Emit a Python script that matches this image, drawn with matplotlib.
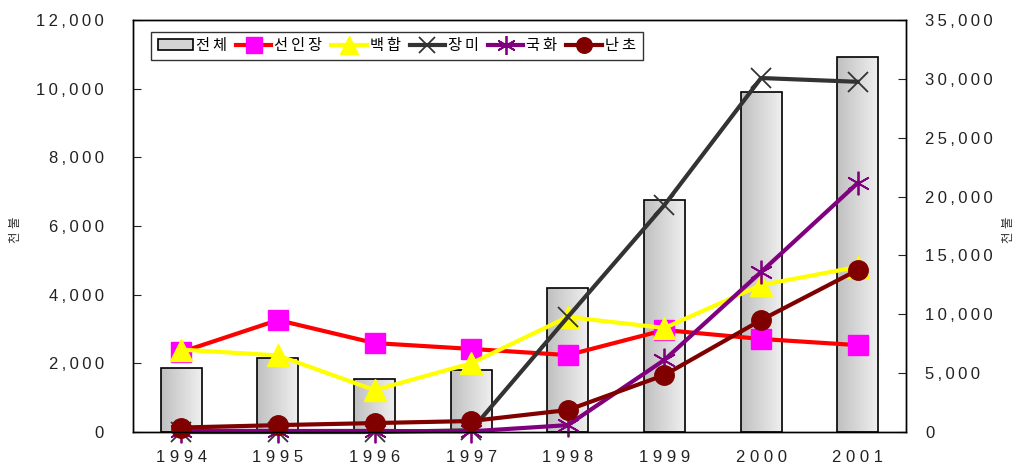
import matplotlib.pyplot as plt
import numpy as np
from matplotlib.patches import Rectangle
from matplotlib.colors import LinearSegmentedColormap

plt.rcParams['font.family'] = ['Liberation Sans', 'Noto Sans CJK KR', 'DejaVu Sans']

years = ['1994', '1995', '1996', '1997', '1998', '1999', '2000', '2001']
total = [5460, 6310, 4470, 5270, 12200, 19710, 28910, 31830]      # 전체 (right axis)
cactus = [2330, 3260, 2590, 2420, 2240, 2970, 2710, 2530]         # 선인장
lily = [2400, 2230, 1220, 2000, 3350, 3030, 4280, 4810]           # 백합
rose = [0, 0, 0, 50, 3350, 6610, 10310, 10200]                    # 장미
chrys = [40, 30, 30, 20, 200, 2100, 4660, 7250]                   # 국화
orchid = [130, 200, 260, 320, 640, 1660, 3260, 4720]              # 난초

left_ticks = [0, 2000, 4000, 6000, 8000, 10000, 12000]
right_ticks = [0, 5000, 10000, 15000, 20000, 25000, 30000, 35000]

thin = '\u2009'


def spaced(s, sep):
    return sep.join(list(s))


fig = plt.figure(figsize=(10.28, 4.7), dpi=100)
ax = fig.add_axes([133 / 1028, 38 / 470, 773 / 1028, 412 / 470])
ax2 = ax.twinx()
ax.set_zorder(ax2.get_zorder() + 1)
ax.patch.set_visible(False)

x = np.arange(len(years))

# bars with a grey gradient
bars = ax2.bar(x, total, width=0.425, facecolor='none', edgecolor='black', linewidth=1.2, zorder=3)
grad = np.linspace(0, 1, 64).reshape(1, -1)
gcmap = LinearSegmentedColormap.from_list('g', ['#c0c0c0', '#f0f0f0'])
for b in bars:
    x0, w, h = b.get_x(), b.get_width(), b.get_height()
    im = ax2.imshow(grad, extent=[x0, x0 + w, 0, h], cmap=gcmap, aspect='auto', zorder=2,
                    interpolation='bilinear')
    im.set_clip_path(b)

ax2.set_ylim(0, 35000)
ax2.set_yticks(right_ticks)
ax2.set_yticklabels([spaced(f'{v:,}', thin) for v in right_ticks])

lw = 3
l1, = ax.plot(x, cactus, color='#ff0000', lw=lw, marker='s', ms=14, mfc='#ff00ff', mec='#ff00ff', clip_on=False)
l2, = ax.plot(x, lily, color='#ffff00', lw=lw, marker='^', ms=16, mfc='#ffff00', mec='#ffff00', clip_on=False)
l3, = ax.plot(x, rose, color='#333333', lw=lw, marker='x', ms=15, mec='#333333', mew=1.3, clip_on=False)
l4, = ax.plot(x, chrys, color='#800080', lw=lw, marker=(6, 2, 0), ms=17, mec='#800080', mew=1.3, clip_on=False)
l5, = ax.plot(x, orchid, color='#800000', lw=lw, marker='o', ms=14, mfc='#800000', mec='#800000', clip_on=False)

ax.set_xlim(-0.5, len(years) - 0.5)
ax.set_ylim(0, 12000)
ax.set_yticks(left_ticks)
ax.set_yticklabels([spaced(f'{v:,}', thin) for v in left_ticks])
ax.set_xticks(x)
ax.set_xticklabels([spaced(y, ' ') for y in years])

ax.tick_params(axis='x', length=0, pad=13, labelsize=12, colors='#222222')
ax.tick_params(axis='y', direction='in', length=6, pad=21, labelsize=12, colors='#222222')
ax2.tick_params(axis='y', direction='in', length=6, pad=14, labelsize=12, colors='#222222')
for a in (ax, ax2):
    for sp in a.spines.values():
        sp.set_linewidth(1.0)
        sp.set_color('black')

ax.set_ylabel('천 불', fontsize=9, color='#333333')
ax.yaxis.set_label_coords(-0.144, 0.49)
ax2.set_ylabel('천 불', fontsize=9, color='#333333', rotation=90)
ax2.yaxis.set_label_coords(1.125, 0.49)

bar_handle = Rectangle((0, 0), 1, 1, facecolor='#d4d4d4', edgecolor='black', linewidth=1.2)
handles = [bar_handle, l1, l2, l3, l4, l5]
labels = [spaced(s, thin) for s in ['전체', '선인장', '백합', '장미', '국화', '난초']]
leg = ax.legend(handles, labels, loc='upper left', bbox_to_anchor=(0.023, 0.971), borderaxespad=0,
                ncol=6, fontsize=11, frameon=True, fancybox=False, edgecolor='black',
                handlelength=2.3, handletextpad=0.2, columnspacing=0.6, borderpad=0.45, markerscale=0.8)
leg.get_frame().set_linewidth(1.0)

plt.savefig('out.png', dpi=100)
